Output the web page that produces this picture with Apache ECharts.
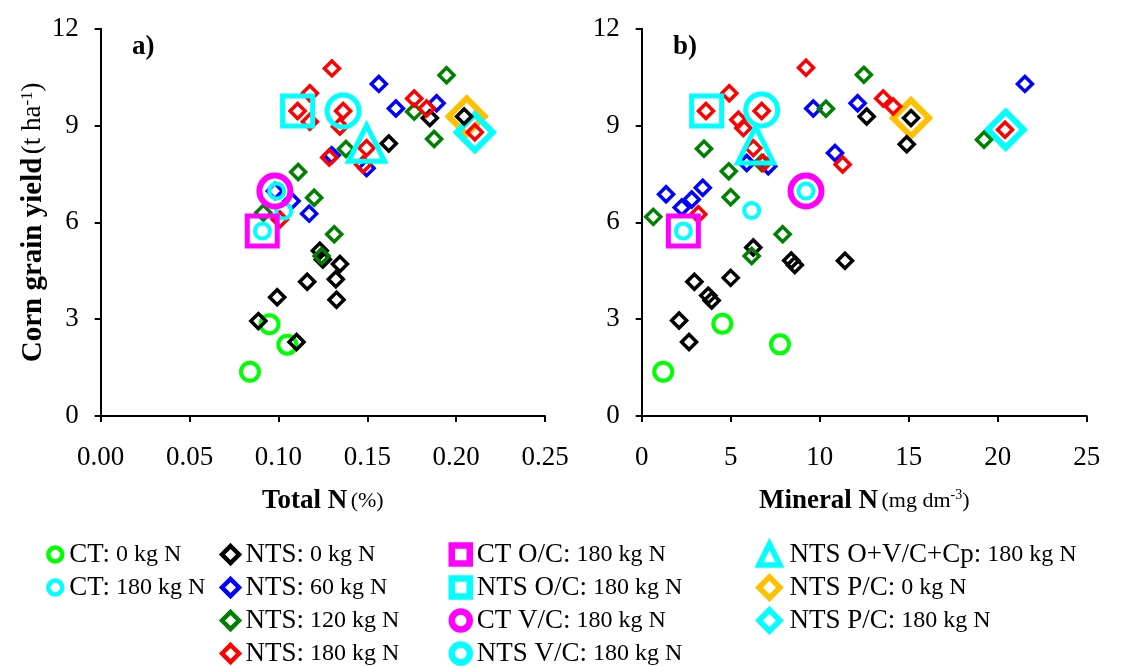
<!DOCTYPE html>
<html>
<head>
<meta charset="utf-8">
<script src="https://cdn.jsdelivr.net/npm/echarts@6/dist/echarts.min.js"></script>
<style>
html,body{margin:0;padding:0;background:#fff}
#chart{width:1123px;height:666px}
</style>
</head>
<body>
<div id="chart"></div>
<script>
// yield (t/ha) vs total N (%) -> *_a, vs mineral N (mg/dm3) -> *_b
const ct0_a = [[0.084,1.37],[0.095,2.84],[0.105,2.21]];
const ct0_b = [[1.21,1.37],[4.53,2.86],[7.77,2.22]];
const ct180_a = [[0.091,5.73],[0.099,6.97],[0.103,6.35]];
const ct180_b = [[2.34,5.73],[9.23,6.97],[6.18,6.37]];
const nts0_a = [[0.0887,2.94],[0.1102,2.29],[0.0993,3.68],[0.1162,4.16],[0.1233,5.12],[0.125,4.85],[0.1346,4.71],
  [0.1323,4.24],[0.1327,3.60],[0.1621,8.44],[0.1852,9.23],[0.2045,9.28]];
const nts0_b = [[6.27,5.22],[8.4,4.82],[8.6,4.68],[11.42,4.81],[2.96,4.16],[5.0,4.28],[3.74,3.73],[3.93,3.58],
  [2.10,2.96],[2.66,2.29],[12.64,9.28],[14.89,8.42],[15.13,9.23]];
const nts60_a = [[0.098,6.97],[0.1074,6.66],[0.1173,6.27],[0.130,8.08],[0.1496,7.68],[0.1565,10.29],[0.1661,9.53],[0.189,9.69]];
const nts60_b = [[1.37,6.87],[2.81,6.71],[3.43,7.07],[2.25,6.46],[5.9,7.84],[7.11,7.74],[9.64,9.53],[10.86,8.15],
  [12.13,9.69],[21.53,10.29]];
const nts120_a = [[0.1946,10.56],[0.1764,9.43],[0.1876,8.58],[0.138,8.27],[0.1111,7.56],[0.1201,6.76],[0.0915,6.30],
  [0.1314,5.63],[0.1243,4.96]];
const nts120_b = [[12.48,10.57],[10.35,9.52],[19.23,8.56],[3.50,8.28],[4.89,7.58],[5.0,6.78],[0.65,6.17],[7.92,5.63],
  [6.18,4.96],[6.74,7.84]];
const nts180_a = [[0.1301,10.77],[0.1177,10.0],[0.1108,9.45],[0.1177,9.12],[0.1364,9.45],[0.1346,8.97],[0.1764,9.84],
  [0.1834,9.53],[0.2105,8.79],[0.1496,8.30],[0.1477,7.79],[0.1286,8.01],[0.1008,6.09]];
const nts180_b = [[9.23,10.79],[4.92,10.0],[3.61,9.45],[5.43,9.18],[6.74,9.45],[5.71,8.92],[13.57,9.84],[14.13,9.59],
  [20.41,8.87],[6.27,8.30],[11.29,7.79],[6.83,7.84],[3.18,6.25]];
// rotation means
const ctOC_a = [[0.0909,5.73]], ctOC_b = [[2.34,5.73]];
const ntsOC_a = [[0.1108,9.45]], ntsOC_b = [[3.65,9.45]];
const ctVC_a = [[0.098,6.97]], ctVC_b = [[9.23,6.97]];
const ntsVC_a = [[0.1364,9.45]], ntsVC_b = [[6.74,9.48]];
const ntsOVC_a = [[0.1496,8.45]], ntsOVC_b = [[6.40,8.40]];
const ntsPC0_a = [[0.2059,9.28]], ntsPC0_b = [[15.13,9.23]];
const ntsPC180_a = [[0.2105,8.79]], ntsPC180_b = [[20.45,8.87]];

const FONT = 'Liberation Serif';

// name, colour, symbol, size, border, data a, data b
const groups = [
  ['NTS P/C: 0 kg N', '#FFC000', 'diamond', 36, 6, ntsPC0_a, ntsPC0_b],
  ['NTS P/C: 180 kg N', '#00FFFF', 'diamond', 36, 6, ntsPC180_a, ntsPC180_b],
  ['CT: 0 kg N', '#00FF00', 'circle', 18, 4, ct0_a, ct0_b],
  ['NTS: 0 kg N', '#000000', 'diamond', 15, 3.5, nts0_a, nts0_b],
  ['NTS: 60 kg N', '#0000FF', 'diamond', 15, 3.5, nts60_a, nts60_b],
  ['NTS: 120 kg N', '#008000', 'diamond', 15, 3.5, nts120_a, nts120_b],
  ['NTS: 180 kg N', '#FF0000', 'diamond', 15, 3.5, nts180_a, nts180_b],
  ['CT: 180 kg N', '#00FFFF', 'circle', 15, 4, ct180_a, ct180_b],
  ['CT O/C: 180 kg N', '#FF00FF', 'rect', 30, 5, ctOC_a, ctOC_b],
  ['NTS O/C: 180 kg N', '#00FFFF', 'rect', 30, 5, ntsOC_a, ntsOC_b],
  ['CT V/C: 180 kg N', '#FF00FF', 'circle', 31, 6, ctVC_a, ctVC_b],
  ['NTS V/C: 180 kg N', '#00FFFF', 'circle', 32, 5, ntsVC_a, ntsVC_b],
  ['NTS O+V/C+Cp: 180 kg N', '#00FFFF', 'triangle', 36, 5, ntsOVC_a, ntsOVC_b]
];

const series = [];
groups.forEach(function(g){
  [g[5], g[6]].forEach(function(d, i){
    series.push({
      name: g[0], type: 'scatter', xAxisIndex: i, yAxisIndex: i,
      symbol: g[2], symbolSize: g[3], data: d,
      itemStyle: {color: 'rgba(0,0,0,0)', borderColor: g[1], borderWidth: g[4], opacity: 1},
      emphasis: {disabled: true}, silent: true
    });
  });
});

function find(name){ return groups.filter(function(g){ return g[0] == name; })[0]; }

function legendCol(names, left, sz, bw, pad){
  return {
    orient: 'vertical', left: left, top: 541, height: 150, padding: 0, itemGap: 6,
    itemWidth: sz, itemHeight: sz, selectedMode: false,
    data: names.map(function(n){
      const g = find(n);
      return {name: n, icon: g[2], itemStyle: {color: '#fff', borderColor: g[1], borderWidth: bw}};
    }),
    formatter: function(name){
      const i = name.indexOf(':');
      return '{n|' + name.slice(0, i + 1) + '}{r| ' + name.slice(i + 2) + '}';
    },
    textStyle: {
      rich: {
        n: {fontFamily: FONT, fontSize: 27, color: '#000', verticalAlign: 'middle', padding: [0, 0, 0, pad]},
        r: {fontFamily: FONT, fontSize: 24, color: '#000', verticalAlign: 'middle'}
      }
    }
  };
}

function nameRich(big, small, sup){
  return {
    b: {fontFamily: FONT, fontSize: big, fontWeight: 'bold', color: '#000', verticalAlign: 'middle'},
    r: {fontFamily: FONT, fontSize: small, color: '#000', verticalAlign: 'middle'},
    s: {fontFamily: FONT, fontSize: sup, color: '#000', verticalAlign: 'top'}
  };
}
const axLine = {show: true, onZero: false, lineStyle: {color: '#000', width: 2}};
const axTick = {show: true, length: 6, lineStyle: {color: '#000', width: 2}};
const axLabel = {fontFamily: FONT, fontSize: 27, color: '#000'};

function xAx(idx, max, interval, name, dec){
  return {
    gridIndex: idx, type: 'value', min: 0, max: max, interval: interval,
    axisLine: axLine, axisTick: axTick, splitLine: {show: false},
    axisLabel: Object.assign({margin: 28, formatter: function(v){ return v.toFixed(dec); }}, axLabel),
    name: name, nameLocation: 'middle', nameGap: 72, nameTextStyle: {rich: nameRich(27, 22, 14)}
  };
}
function yAx(idx, name){
  return {
    gridIndex: idx, type: 'value', min: 0, max: 12, interval: 3,
    axisLine: axLine, axisTick: axTick, splitLine: {show: false},
    axisLabel: Object.assign({margin: 22}, axLabel),
    name: name, nameLocation: 'middle', nameGap: 42, nameRotate: 90, nameTextStyle: {rich: nameRich(29, 27, 17)}
  };
}

const chart = echarts.init(document.getElementById('chart'));
chart.setOption({
  animation: false,
  backgroundColor: '#fff',
  grid: [
    {left: 100.7, top: 28.7, width: 444.3, height: 387.3, outerBoundsMode: 'none'},
    {left: 641.7, top: 28.7, width: 445, height: 387.3, outerBoundsMode: 'none'}
  ],
  xAxis: [
    xAx(0, 0.25, 0.05, '{b|Total N} {r|(%)}', 2),
    xAx(1, 25, 5, '{b|Mineral N} {r|(mg dm}{s|-3}{r|)}', 0)
  ],
  yAxis: [
    yAx(0, '{b|Corn grain yield} {r|(t ha}{s|-1}{r|)}'),
    yAx(1, '')
  ],
  legend: [
    legendCol(['CT: 0 kg N', 'CT: 180 kg N'], 46, 14, 4.5, 2),
    legendCol(['NTS: 0 kg N', 'NTS: 60 kg N', 'NTS: 120 kg N', 'NTS: 180 kg N'], 219.8, 17, 4.5, 1.5),
    legendCol(['CT O/C: 180 kg N', 'NTS O/C: 180 kg N', 'CT V/C: 180 kg N', 'NTS V/C: 180 kg N'], 448.5, 18, 6.5, 2),
    legendCol(['NTS O+V/C+Cp: 180 kg N', 'NTS P/C: 0 kg N', 'NTS P/C: 180 kg N'], 756.2, 21, 5.5, 4.5)
  ],
  graphic: [
    {type: 'text', left: 132, top: 34, style: {text: 'a)', font: 'bold 27px "Liberation Serif"', fill: '#000'}},
    {type: 'text', left: 673, top: 34, style: {text: 'b)', font: 'bold 27px "Liberation Serif"', fill: '#000'}}
  ],
  series: series
});
</script>
</body>
</html>
